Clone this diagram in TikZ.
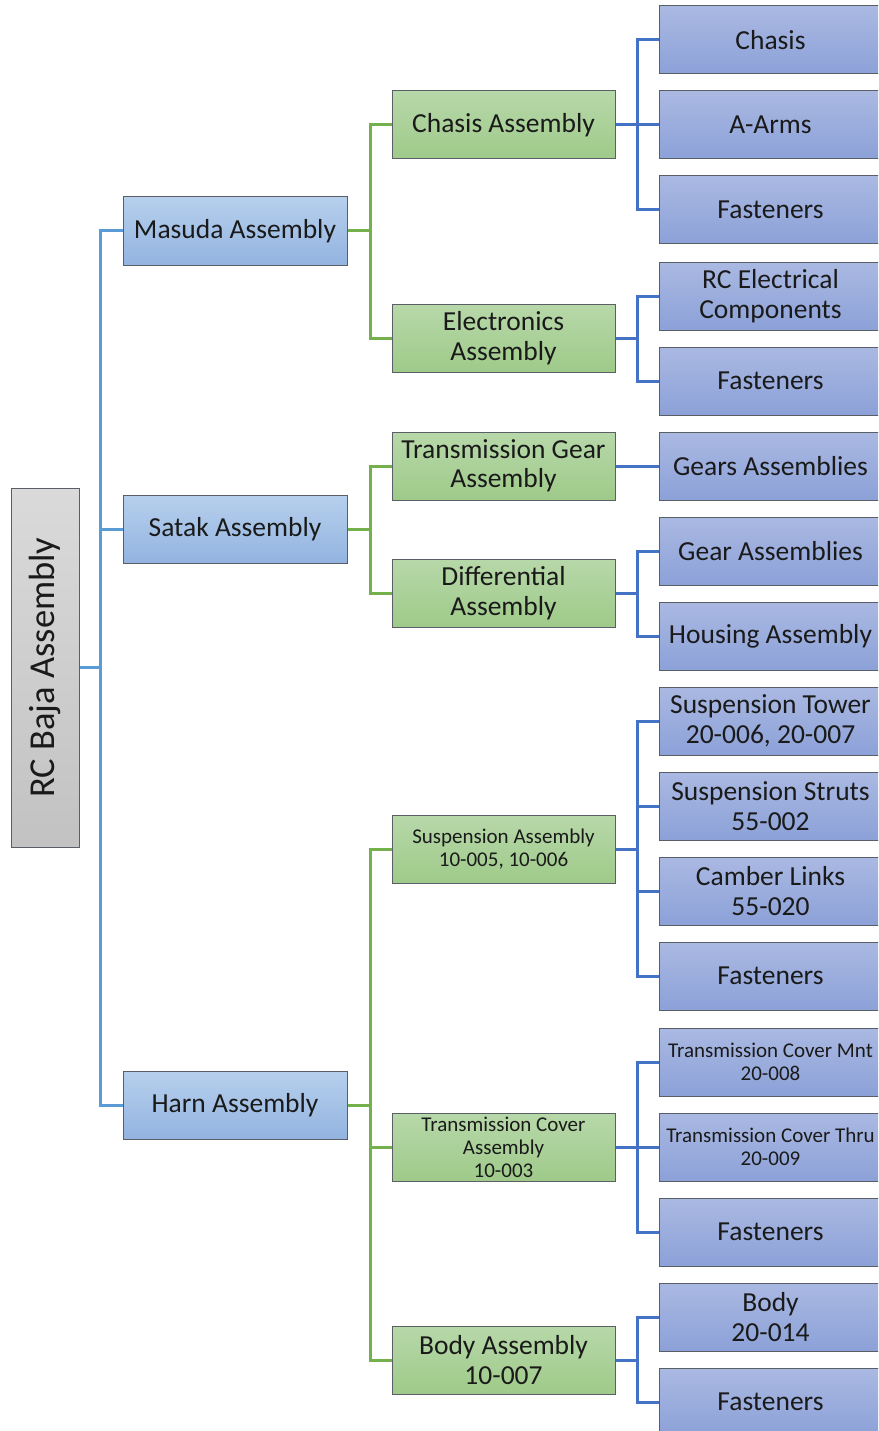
\documentclass[tikz,border=0pt]{standalone}
\usepackage{fontspec}
\setmainfont{Carlito}
\definecolor{boxline}{HTML}{5A5F66}
\definecolor{txt}{HTML}{1A1A1A}
\definecolor{rtop}{HTML}{DADADA}
\definecolor{rbot}{HTML}{C2C2C2}
\definecolor{btop}{HTML}{B6CFEC}
\definecolor{bbot}{HTML}{93B4E1}
\definecolor{gtop}{HTML}{B7D8A9}
\definecolor{gbot}{HTML}{9FCA8A}
\definecolor{ptop}{HTML}{AAB9E2}
\definecolor{pbot}{HTML}{8CA1D8}
\definecolor{lbl}{HTML}{5B9BD5}
\definecolor{lgr}{HTML}{74B04C}
\definecolor{ldb}{HTML}{4472C4}
\tikzset{
  box/.style={draw=boxline, line width=1pt, minimum height=68pt, inner sep=0pt,
    align=center, text=txt, font=\fontsize{27.5}{29.5}\selectfont},
  rootbox/.style={box, minimum width=68pt, minimum height=359pt, top color=rtop, bottom color=rbot},
  lone/.style={box, minimum width=224pt, top color=btop, bottom color=bbot},
  ltwo/.style={box, minimum width=223pt, top color=gtop, bottom color=gbot},
  lthree/.style={box, minimum width=223pt, top color=ptop, bottom color=pbot},
  smalltext/.style={font=\fontsize{21}{23}\selectfont},
  rootc/.style={draw=lbl, line width=3pt},
  greenc/.style={draw=lgr, line width=3pt},
  bluec/.style={draw=ldb, line width=3pt},
}
\begin{document}
\begin{tikzpicture}[x=1pt,y=-1pt]
\useasboundingbox (0,0) rectangle (878,1431);
\clip (0,0) rectangle (878,1431);
\fill[white] (0,0) rectangle (878,1431);

% root
\node[rootbox] (root) at (45,667.5) {\rotatebox{90}{\fontsize{36.5}{38}\selectfont RC Baja Assembly}};

% level 1
\node[lone] (masuda) at (235,231) {Masuda Assembly};
\node[lone] (satak) at (235,529) {Satak Assembly};
\node[lone] (harn) at (235,1105) {Harn Assembly};

% level 2
\node[ltwo] (chasisA) at (503.5,125) {Chasis Assembly};
\node[ltwo] (elecA) at (503.5,338) {Electronics\\Assembly};
\node[ltwo] (transG) at (503.5,466) {Transmission Gear\\Assembly};
\node[ltwo] (diffA) at (503.5,593) {Differential\\Assembly};
\node[ltwo,smalltext] (suspA) at (503.5,849) {Suspension Assembly\\10-005, 10-006};
\node[ltwo,smalltext] (tcovA) at (503.5,1147) {Transmission Cover\\Assembly\\10-003};
\node[ltwo] (bodyA) at (503.5,1360) {Body Assembly\\10-007};

% level 3
\node[lthree] (chasis) at (770.5,40) {Chasis};
\node[lthree] (aarms) at (770.5,125) {A-Arms};
\node[lthree] (fast1) at (770.5,210) {Fasteners};
\node[lthree] (rcel) at (770.5,296) {RC Electrical\\Components};
\node[lthree] (fast2) at (770.5,381) {Fasteners};
\node[lthree] (gearsA) at (770.5,466) {Gears Assemblies};
\node[lthree] (gearA) at (770.5,551) {Gear Assemblies};
\node[lthree] (housing) at (770.5,636) {Housing Assembly};
\node[lthree] (stower) at (770.5,721) {Suspension Tower\\20-006, 20-007};
\node[lthree] (sstruts) at (770.5,806) {Suspension Struts\\55-002};
\node[lthree] (camber) at (770.5,891) {Camber Links\\55-020};
\node[lthree] (fast3) at (770.5,976) {Fasteners};
\node[lthree,smalltext] (tcmnt) at (770.5,1062) {Transmission Cover Mnt\\20-008};
\node[lthree,smalltext] (tcthru) at (770.5,1147) {Transmission Cover Thru\\20-009};
\node[lthree] (fast4) at (770.5,1232) {Fasteners};
\node[lthree] (body) at (770.5,1317) {Body\\20-014};
\node[lthree] (fast5) at (770.5,1402) {Fasteners};

% connectors root -> level 1
\foreach \c in {masuda,satak,harn}
  \draw[rootc] (root.east) -- ++(21,0) |- (\c.west);

% level 1 -> level 2
\foreach \c in {chasisA,elecA}
  \draw[greenc] (masuda.east) -- ++(22.5,0) |- (\c.west);
\foreach \c in {transG,diffA}
  \draw[greenc] (satak.east) -- ++(22.5,0) |- (\c.west);
\foreach \c in {suspA,tcovA,bodyA}
  \draw[greenc] (harn.east) -- ++(22.5,0) |- (\c.west);

% level 2 -> level 3
\foreach \c in {chasis,aarms,fast1}
  \draw[bluec] (chasisA.east) -- ++(22,0) |- (\c.west);
\foreach \c in {rcel,fast2}
  \draw[bluec] (elecA.east) -- ++(22,0) |- (\c.west);
\draw[bluec] (transG.east) -- (gearsA.west);
\foreach \c in {gearA,housing}
  \draw[bluec] (diffA.east) -- ++(22,0) |- (\c.west);
\foreach \c in {stower,sstruts,camber,fast3}
  \draw[bluec] (suspA.east) -- ++(22,0) |- (\c.west);
\foreach \c in {tcmnt,tcthru,fast4}
  \draw[bluec] (tcovA.east) -- ++(22,0) |- (\c.west);
\foreach \c in {body,fast5}
  \draw[bluec] (bodyA.east) -- ++(22,0) |- (\c.west);
\end{tikzpicture}
\end{document}
